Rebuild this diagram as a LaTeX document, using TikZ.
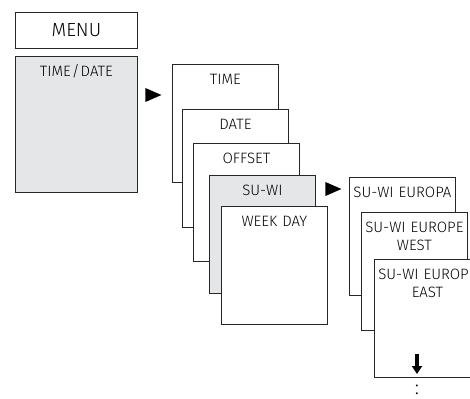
\documentclass[tikz,border=0pt]{standalone}
\usepackage{fontspec}
\setmainfont{Fira Sans Light}
\usetikzlibrary{shapes.geometric}
\usetikzlibrary{arrows.meta}
\definecolor{panelgrey}{RGB}{229,230,232}

\tikzset{
  card/.style={draw=black!85, line width=0.8pt, fill=white, rectangle, anchor=north west,
    inner xsep=1pt, inner ysep=0pt, text width=104pt, align=center,
    minimum height=118pt, text height=20pt, text depth=98pt,
    font=\fontsize{15}{18}\selectfont},
  greycard/.style={card, fill=panelgrey},
  tri/.style={isosceles triangle, isosceles triangle stretches, fill=black, inner sep=0pt,
    minimum width=14pt, minimum height=16pt}
}

\begin{document}
\begin{tikzpicture}[x=1pt, y=-1pt]
        \useasboundingbox (0,0) rectangle (470,398);
        \clip (0,0) rectangle (470,398);
        % first level
        \node[draw=black!85, line width=0.8pt, rectangle, anchor=north west, minimum width=122pt,
          minimum height=36pt, inner sep=0pt, font=\fontsize{19}{20}\selectfont] (menu) at (15,12) {MENU};
        \node[greycard, text width=120pt, minimum height=136pt, text depth=116pt] (timedate) at (15,56) {TIME\kern1pt/\kern1pt DATE};
        \node[tri] (go1) at (150,95) {};
        % second level
        \node[card] (time) at (172,64) {TIME};
        \node[card] (date) at (182,109) {DATE};
        \node[card] (offset) at (193,143) {OFFSET};
        \node[greycard] (suwi) at (209,175) {SU-WI};
        \node[card] (weekday) at (221,206) {WEEK DAY};
        \node[tri] (go2) at (330,189) {};
        % third level
        \node[card] (europa) at (349,177) {SU-WI EUROPA};
        \node[card] (west) at (361,212) {SU-WI EUROPE\\WEST};
        \node[card] (east) at (374,259) {SU-WI EUROPE\\EAST};
        \coordinate (down-a) at (417,354);
        \coordinate (down-b) at (417,374);
        \draw[line width=4.5pt, -{Triangle[width=10pt, length=8pt]}] (down-a) -- (down-b);
        \node[font=\fontsize{20}{20}\selectfont, inner sep=0pt, anchor=base] (more) at (417,394) {:};
\end{tikzpicture}
\end{document}
